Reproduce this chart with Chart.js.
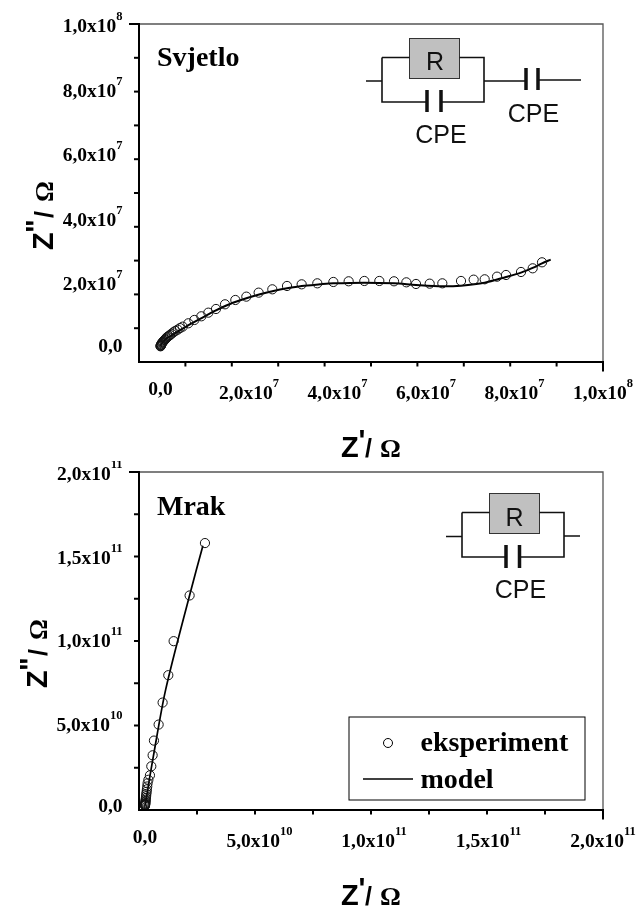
<!DOCTYPE html>
<html>
<head>
<meta charset="utf-8">
<title>Svjetlo / Mrak</title>
<script src="https://cdn.jsdelivr.net/npm/chart.js@4"></script>
<style>
  html, body { margin: 0; padding: 0; background: #fff; }
  #page { position: relative; width: 636px; height: 907px; overflow: hidden; }
  canvas { position: absolute; left: 0; }
  #chart-light { top: 0; }
  #chart-dark { top: 461px; }
  #circuits { position: absolute; left: 0; top: 0; }
  #circuits text { font-family: 'Liberation Sans', sans-serif; font-size: 25px; fill: #111; }
</style>
</head>
<body>
<div id="page">
  <canvas id="chart-light" width="636" height="461"></canvas>
  <canvas id="chart-dark" width="636" height="446"></canvas>
  <svg id="circuits" width="636" height="907" fill="none" stroke="#111" stroke-width="1.6">
    <!-- gornji krug -->
    <rect x="409.5" y="38.5" width="50" height="40" fill="#c0c0c0" stroke="#333" stroke-width="1"/>
    <path d="M366 81H382M382 57.5H409.5M459.5 57.5H484V102H441M427 102H382V57.5M484 81H526M538 80H581"/>
    <path d="M427 90V112M441 90V112M526 68V90M538 68V90" stroke-width="3.5"/>
    <text x="435" y="70" text-anchor="middle" stroke="none">R</text>
    <text x="441" y="143" text-anchor="middle" stroke="none">CPE</text>
    <text x="533.5" y="122" text-anchor="middle" stroke="none">CPE</text>
    <!-- donji krug -->
    <rect x="489.5" y="493.5" width="50" height="40" fill="#c0c0c0" stroke="#333" stroke-width="1"/>
    <path d="M446 536.5H462M462 512.5H489.5M539.5 512.5H564V557H519.5M506 557H462V512.5M564 536H580"/>
    <path d="M506 545V568M519.5 545V568" stroke-width="3.5"/>
    <text x="514.5" y="526" text-anchor="middle" stroke="none">R</text>
    <text x="520.5" y="598" text-anchor="middle" stroke="none">CPE</text>
  </svg>
</div>
<script>
// Svjetlo: eksperiment
const lightExpX = [0, 0.02e6, 0.05e6, 0.1e6, 0.15e6, 0.2e6, 0.3e6, 0.4e6, 0.5e6, 0.6e6, 0.75e6, 0.9e6, 1.05e6, 1.2e6, 1.4e6, 1.6e6,
  1.85e6, 2.15e6, 2.5e6, 2.9e6, 3.35e6, 3.88e6, 4.4e6, 5.01e6, 6.29e6, 7.65e6, 9.23e6,
  1.081e7, 1.254e7, 1.458e7, 1.691e7, 1.94e7, 2.218e7, 2.527e7, 2.859e7, 3.19e7, 3.544e7, 3.906e7, 4.252e7, 4.606e7,
  4.945e7, 5.277e7, 5.556e7, 5.774e7, 6.083e7, 6.369e7, 6.791e7, 7.077e7, 7.326e7, 7.605e7, 7.808e7, 8.147e7, 8.411e7, 8.622e7];
const lightExpY = [0, 0.1e6, 0.2e6, 0.38e6, 0.5e6, 0.65e6, 0.93e6, 1.12e6, 1.28e6, 1.45e6, 1.7e6, 1.92e6, 2.15e6, 2.4e6, 2.7e6, 2.95e6,
  3.2e6, 3.5e6, 3.9e6, 4.34e6, 4.78e6, 5.17e6, 5.65e6, 6.1e6, 7.14e6, 8.17e6, 9.31e6,
  1.044e7, 1.158e7, 1.303e7, 1.437e7, 1.541e7, 1.665e7, 1.768e7, 1.872e7, 1.923e7, 1.954e7, 1.996e7, 2.017e7, 2.027e7,
  2.027e7, 2.017e7, 1.985e7, 1.934e7, 1.944e7, 1.954e7, 2.027e7, 2.068e7, 2.079e7, 2.161e7, 2.213e7, 2.306e7, 2.42e7, 2.606e7];
// Svjetlo: model
const lightModelX = [0, 0.26e6, 1.39e6, 2.9e6, 5.01e6, 7.04e6, 8.93e6, 1.194e7, 1.571e7, 1.94e7, 2.249e7, 2.527e7, 2.859e7,
  3.19e7, 3.604e7, 3.906e7, 4.606e7, 5.277e7, 5.774e7, 6.369e7, 6.791e7, 7.326e7, 7.808e7, 8.147e7, 8.425e7, 8.622e7, 8.818e7];
const lightModelY = [0, 0.83e6, 2.48e6, 3.72e6, 5.48e6, 7.14e6, 8.48e6, 1.075e7, 1.313e7, 1.489e7, 1.613e7, 1.706e7, 1.799e7,
  1.872e7, 1.923e7, 1.954e7, 1.975e7, 1.954e7, 1.903e7, 1.861e7, 1.882e7, 1.975e7, 2.151e7, 2.285e7, 2.44e7, 2.575e7, 2.689e7];
const lightTicks = [0, 2e7, 4e7, 6e7, 8e7, 1e8];
const lightLabels = ['0,0', '2,0x10^7', '4,0x10^7', '6,0x10^7', '8,0x10^7', '1,0x10^8'];

// Mrak: eksperiment
const darkExpX = [0, 0.01e9, 0.03e9, 0.05e9, 0.08e9, 0.11e9, 0.15e9, 0.2e9, 0.25e9, 0.32e9, 0.4e9, 0.5e9, 0.6e9, 0.72e9, 0.85e9, 1.0e9, 1.15e9, 1.5e9, 2.18e9, 2.77e9, 3.35e9, 3.93e9,
  5.97e9, 7.71e9, 1.019e10, 1.252e10, 1.95e10, 2.62e10];
const darkExpY = [0, 0.15e9, 0.3e9, 0.5e9, 0.8e9, 1.1e9, 1.5e9, 2.1e9, 2.8e9, 3.6e9, 4.6e9, 5.7e9, 7e9, 8.3e9, 9.8e9, 1.15e10, 1.34e10, 1.55e10, 1.82e10, 2.36e10, 3.02e10, 3.9e10,
  4.86e10, 6.18e10, 7.82e10, 9.86e10, 1.26e11, 1.574e11];
// Mrak: model
const darkModelX = [0, 0.73e9, 1.89e9, 3.64e9, 9.02e9, 1.936e10, 2.53e10];
const darkModelY = [0, 5.4e9, 1.54e10, 2.94e10, 6.94e10, 1.254e11, 1.558e11];
const darkTicks = [0, 5e10, 1e11, 1.5e11, 2e11];
const darkLabels = ['0,0', '5,0x10^10', '1,0x10^11', '1,5x10^11', '2,0x10^11'];

const SERIF = "'Liberation Serif', serif";
const SANS = "'Liberation Sans', sans-serif";

const zip = (xs, ys) => xs.map((x, i) => ({ x, y: ys[i] }));

// mantisa + eksponent kao gornji indeks
function drawTickLabel(ctx, label, px, baseY, align, size) {
  const [mant, exp] = label.split('^');
  ctx.textAlign = 'left';
  ctx.textBaseline = 'alphabetic';
  ctx.font = `bold ${size}px ${SERIF}`;
  const mw = ctx.measureText(mant).width;
  ctx.font = `bold 12.5px ${SERIF}`;
  const ew = exp ? ctx.measureText(exp).width : 0;
  const left = align === 'right' ? px - mw - ew : px - (mw + ew) / 2;
  ctx.font = `bold ${size}px ${SERIF}`;
  ctx.fillText(mant, left, baseY);
  if (exp) {
    ctx.font = `bold 12.5px ${SERIF}`;
    ctx.fillText(exp, left + mw, baseY - 12);
  }
}

function axesPlugin(cfg) {
  return {
    id: 'axes',
    afterDraw(chart) {
      const { ctx, chartArea: a, scales } = chart;
      ctx.save();
      ctx.fillStyle = ctx.strokeStyle = '#000';

      // okvir: gornja i desna strana tanje
      ctx.strokeStyle = '#555';
      ctx.lineWidth = 1.3;
      ctx.beginPath();
      ctx.moveTo(a.left, a.top);
      ctx.lineTo(a.right, a.top);
      ctx.lineTo(a.right, a.bottom);
      ctx.stroke();
      ctx.strokeStyle = '#000';
      ctx.lineWidth = 2;
      ctx.beginPath();
      ctx.moveTo(a.left, a.top - 1);
      ctx.lineTo(a.left, a.bottom);
      ctx.lineTo(a.right + 1, a.bottom);
      ctx.stroke();

      // crtice (bez one na samom pocetku osi)
      scales.x.ticks.filter(t => t.value >= 0).forEach(t => {
        const p = scales.x.getPixelForValue(t.value);
        const len = cfg.ticks.includes(t.value) ? 9.5 : 4.5;
        ctx.beginPath();
        ctx.moveTo(p, a.bottom);
        ctx.lineTo(p, a.bottom + len);
        ctx.stroke();
      });
      scales.y.ticks.filter(t => t.value >= 0).forEach(t => {
        const p = scales.y.getPixelForValue(t.value);
        const len = cfg.ticks.includes(t.value) ? 10 : 5;
        ctx.beginPath();
        ctx.moveTo(a.left, p);
        ctx.lineTo(a.left - len, p);
        ctx.stroke();
      });

      // oznake
      cfg.ticks.forEach((v, i) => {
        const label = cfg.labels[i];
        const isZero = v === 0;
        drawTickLabel(ctx, label, scales.x.getPixelForValue(v), a.bottom + (isZero ? 33 : 36.5), 'center', 19.5);
        drawTickLabel(ctx, label, 122.5, scales.y.getPixelForValue(v) + (isZero ? 6 : 8.3), 'right', 19.5);
      });

      // naziv panela
      ctx.font = `bold 28px ${SERIF}`;
      ctx.textAlign = 'left';
      ctx.fillText(cfg.title, 157, a.top + cfg.titleDy);

      // naziv x osi
      const xb = a.bottom + 95;
      ctx.font = `bold 29px ${SANS}`;
      ctx.fillText('Z', 341, xb);
      ctx.fillText("'", 358.5, xb - 7);
      ctx.font = `bold 25px ${SANS}`;
      ctx.fillText('/', 365, xb);
      ctx.font = `bold 26px ${SERIF}`;
      ctx.fillText('Ω', 380, xb);

      // naziv y osi
      ctx.translate(cfg.yTitleX, a.top + cfg.yTitleY);
      ctx.rotate(-Math.PI / 2);
      ctx.font = `bold 29px ${SANS}`;
      ctx.fillText('Z', 0, 0);
      ctx.fillText('"', 17, -7);
      ctx.font = `bold 25px ${SANS}`;
      ctx.fillText('/', 32, 0);
      ctx.font = `bold 26px ${SERIF}`;
      ctx.fillText('Ω', 48, 0);
      ctx.restore();

      if (cfg.legend) drawLegend(chart);
    }
  };
}

// legenda u donjem panelu
function drawLegend(chart) {
  const { ctx, data } = chart;
  const off = 461;
  ctx.save();
  ctx.fillStyle = '#fff';
  ctx.strokeStyle = '#000';
  ctx.lineWidth = 1;
  ctx.fillRect(349, 717 - off, 236, 83);
  ctx.strokeRect(349, 717 - off, 236, 83);
  ctx.lineWidth = 1;
  ctx.beginPath();
  ctx.arc(388, 743 - off, 4.5, 0, Math.PI * 2);
  ctx.stroke();
  ctx.lineWidth = 1.6;
  ctx.beginPath();
  ctx.moveTo(363, 779 - off);
  ctx.lineTo(413, 779 - off);
  ctx.stroke();
  ctx.fillStyle = '#000';
  ctx.font = `bold 28px ${SERIF}`;
  ctx.textAlign = 'left';
  ctx.fillText(data.datasets[0].label, 420.5, 751 - off);
  ctx.fillText(data.datasets[1].label, 420.5, 788 - off);
  ctx.restore();
}

function makeChart(id, cfg) {
  return new Chart(document.getElementById(id), {
    type: 'scatter',
    data: {
      datasets: [
        {
          label: 'eksperiment',
          data: zip(cfg.expX, cfg.expY),
          showLine: false,
          pointRadius: 4.6,
          pointBorderWidth: 1,
          pointBorderColor: '#111',
          pointBackgroundColor: 'transparent'
        },
        {
          label: 'model',
          data: zip(cfg.modelX, cfg.modelY),
          showLine: true,
          pointRadius: 0,
          borderColor: '#000',
          borderWidth: cfg.modelWidth,
          tension: 0.3
        }
      ]
    },
    options: {
      responsive: false,
      animation: false,
      layout: { padding: cfg.padding },
      plugins: { legend: { display: false }, tooltip: { enabled: false } },
      scales: {
        x: {
          type: 'linear',
          min: cfg.xMin,
          max: cfg.max,
          grid: { display: false, drawTicks: false },
          border: { display: false },
          ticks: { display: false, stepSize: cfg.minorStep, includeBounds: false }
        },
        y: {
          type: 'linear',
          min: cfg.yMin,
          max: cfg.max,
          grid: { display: false, drawTicks: false },
          border: { display: false },
          ticks: { display: false, stepSize: cfg.minorStep, includeBounds: false }
        }
      }
    },
    plugins: [axesPlugin(cfg)]
  });
}

makeChart('chart-light', {
  expX: lightExpX, expY: lightExpY, modelX: lightModelX, modelY: lightModelY,
  ticks: lightTicks, labels: lightLabels,
  xMin: -4.86e6, yMin: -4.87e6, max: 1e8, minorStep: 1e7,
  padding: { left: 139, right: 33, top: 24, bottom: 99 },
  title: 'Svjetlo', titleDy: 42, yTitleX: 52.5, yTitleY: 226, modelWidth: 2
});

makeChart('chart-dark', {
  expX: darkExpX, expY: darkExpY, modelX: darkModelX, modelY: darkModelY,
  ticks: darkTicks, labels: darkLabels,
  xMin: -2.6e9, yMin: -2.6e9, max: 2e11, minorStep: 2.5e10,
  padding: { left: 139, right: 33, top: 11, bottom: 97 },
  title: 'Mrak', titleDy: 43, yTitleX: 46.5, yTitleY: 216, modelWidth: 1.7, legend: true
});
</script>
</body>
</html>
